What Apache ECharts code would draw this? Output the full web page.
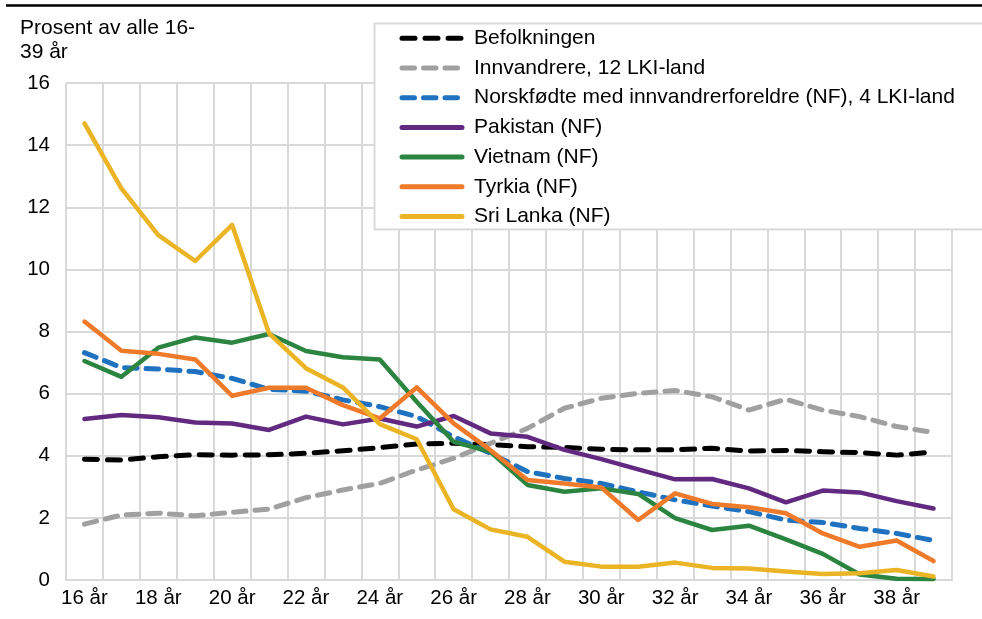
<!DOCTYPE html>
<html>
<head>
<meta charset="utf-8">
<script src="https://cdn.jsdelivr.net/npm/echarts@6/dist/echarts.min.js"></script>
<style>
  html, body { margin: 0; padding: 0; background: #fff; }
  #chart { width: 982px; height: 619px; }
</style>
</head>
<body>
<div id="chart"></div>
<script>
// alder 16-39 år
var ages = ['16 år','17 år','18 år','19 år','20 år','21 år','22 år','23 år','24 år','25 år','26 år','27 år',
            '28 år','29 år','30 år','31 år','32 år','33 år','34 år','35 år','36 år','37 år','38 år','39 år'];

var befolkningen = [3.89, 3.86, 3.97, 4.03, 4.02, 4.03, 4.08, 4.16, 4.26, 4.38, 4.4, 4.36,
                    4.29, 4.27, 4.21, 4.19, 4.19, 4.24, 4.15, 4.17, 4.13, 4.1, 4.02, 4.12];
var innvandrere = [1.8, 2.09, 2.15, 2.07, 2.18, 2.28, 2.65, 2.9, 3.11, 3.54, 3.92, 4.4,
                   4.88, 5.53, 5.85, 6.01, 6.1, 5.9, 5.47, 5.82, 5.47, 5.26, 4.94, 4.75];
var norskfodte = [7.32, 6.84, 6.79, 6.71, 6.49, 6.14, 6.08, 5.8, 5.58, 5.26, 4.61, 4.08,
                  3.49, 3.27, 3.11, 2.84, 2.58, 2.38, 2.2, 1.93, 1.85, 1.66, 1.5, 1.27];
var pakistan = [5.18, 5.31, 5.24, 5.07, 5.04, 4.83, 5.26, 5.01, 5.2, 4.94, 5.28, 4.72,
                4.61, 4.19, 3.89, 3.56, 3.24, 3.25, 2.95, 2.5, 2.88, 2.82, 2.54, 2.3];
var vietnam = [7.05, 6.54, 7.48, 7.81, 7.64, 7.92, 7.37, 7.17, 7.1, 5.74, 4.45, 4.13,
               3.06, 2.84, 2.95, 2.77, 1.99, 1.61, 1.75, 1.31, 0.84, 0.18, 0.04, 0.03];
var tyrkia = [8.32, 7.38, 7.28, 7.1, 5.93, 6.19, 6.19, 5.63, 5.2, 6.2, 5.04, 4.18,
              3.22, 3.11, 2.98, 1.93, 2.79, 2.45, 2.34, 2.15, 1.5, 1.07, 1.27, 0.61];
var sriLanka = [14.7, 12.61, 11.1, 10.27, 11.43, 7.94, 6.82, 6.2, 5.02, 4.53, 2.28, 1.63,
                1.39, 0.59, 0.43, 0.43, 0.56, 0.39, 0.37, 0.27, 0.19, 0.22, 0.32, 0.11];

var font = '"Liberation Sans", Arial, sans-serif';

function serie(name, data, color, dash) {
  return {
    name: name,
    type: 'line',
    data: data,
    symbol: 'none',
    lineStyle: {
      color: color,
      width: dash ? 5 : 4.5,
      type: dash ? dash : 'solid',
      cap: 'round',
      join: 'round'
    },
    itemStyle: { color: color }
  };
}

var chart = echarts.init(document.getElementById('chart'));

var option = {
  animation: false,
  backgroundColor: '#fff',
  textStyle: { fontFamily: font },
  title: {
    text: 'Prosent av alle 16-\n39 år',
    left: 20,
    top: 16,
    padding: 0,
    textStyle: { fontFamily: font, fontSize: 21, fontWeight: 'normal', color: '#000', lineHeight: 24 }
  },
  graphic: [
    {
      type: 'line',
      z: 5,
      shape: { x1: 6, y1: 5.5, x2: 982, y2: 5.5 },
      style: { stroke: '#000', lineWidth: 2.5 }
    },
    {
      type: 'rect',
      z: 3,
      shape: { x: 374.5, y: 23.5, width: 620, height: 206 },
      style: { fill: '#fff', stroke: '#d9d9d9', lineWidth: 2 }
    }
  ],
  legend: {
    orient: 'vertical',
    left: 399.5,
    top: 27.3,
    padding: 0,
    itemWidth: 60,
    itemHeight: 22,
    itemGap: 7.7,
    z: 6,
    itemStyle: { opacity: 0 },
    lineStyle: { width: 5, cap: 'round' },
    textStyle: { fontFamily: font, fontSize: 21, color: '#000', lineHeight: 22, padding: [0, 0, 0, 7] },
    data: ['Befolkningen', 'Innvandrere, 12 LKI-land', 'Norskfødte med innvandrerforeldre (NF), 4 LKI-land',
           'Pakistan (NF)', 'Vietnam (NF)', 'Tyrkia (NF)', 'Sri Lanka (NF)']
  },
  grid: { left: 66, right: 30, top: 83, bottom: 39, containLabel: false },
  xAxis: {
    type: 'category',
    data: ages,
    boundaryGap: true,
    axisLine: { show: true, lineStyle: { color: '#d9d9d9', width: 2 } },
    axisTick: { show: false },
    axisLabel: { interval: 1, color: '#000', fontSize: 20.5, fontFamily: font, margin: 8 },
    splitLine: { show: true, interval: 0, lineStyle: { color: '#d9d9d9', width: 2 } }
  },
  yAxis: {
    type: 'value',
    min: 0,
    max: 16,
    interval: 2,
    axisLine: { show: false },
    axisTick: { show: false },
    axisLabel: { color: '#000', fontSize: 20.5, fontFamily: font, margin: 16 },
    splitLine: { show: true, lineStyle: { color: '#d9d9d9', width: 2 } }
  },
  series: [
    serie('Befolkningen', befolkningen, '#000000', [13, 10]),
    serie('Innvandrere, 12 LKI-land', innvandrere, '#a0a0a0', [12.5, 9]),
    serie('Norskfødte med innvandrerforeldre (NF), 4 LKI-land', norskfodte, '#1f72c0', [12.5, 9]),
    serie('Pakistan (NF)', pakistan, '#612a80'),
    serie('Vietnam (NF)', vietnam, '#2b8540'),
    serie('Tyrkia (NF)', tyrkia, '#ee7a2a'),
    serie('Sri Lanka (NF)', sriLanka, '#ebb424')
  ]
};

chart.setOption(option);
</script>
</body>
</html>
